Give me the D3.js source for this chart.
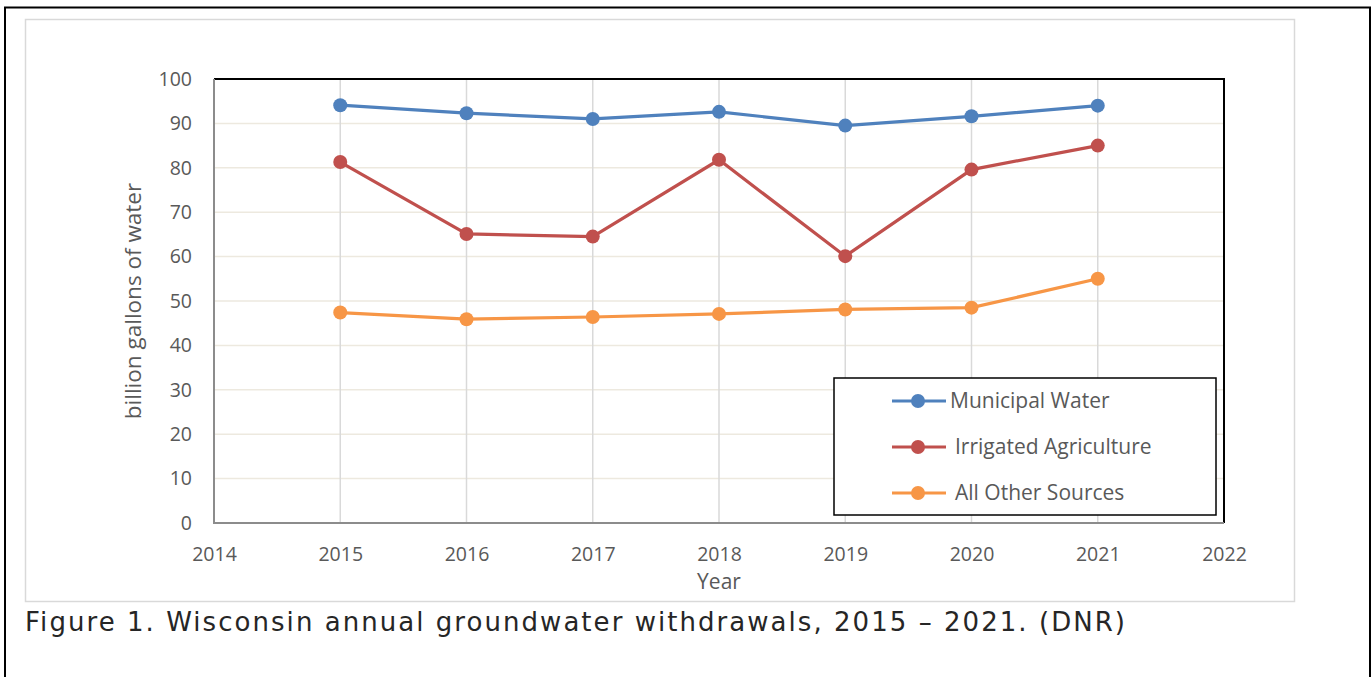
<!DOCTYPE html>
<html>
<head>
<meta charset="utf-8">
<script src="https://cdn.jsdelivr.net/npm/d3@7"></script>
<style>
  body { margin: 0; background: #fff; }
  svg { display: block; }
</style>
</head>
<body>
<svg width="1372" height="677"></svg>
<script>
var years = [2015, 2016, 2017, 2018, 2019, 2020, 2021];
var xTicks = [2014, 2015, 2016, 2017, 2018, 2019, 2020, 2021, 2022];
var yTicks = [0, 10, 20, 30, 40, 50, 60, 70, 80, 90, 100];
var municipal = [94.1, 92.3, 91.0, 92.6, 89.5, 91.6, 94.0];
var irrigated = [81.3, 65.1, 64.5, 81.8, 60.1, 79.6, 85.0];
var otherSources = [47.4, 45.9, 46.4, 47.1, 48.1, 48.5, 55.0];
var seriesNames = ["Municipal Water", "Irrigated Agriculture", "All Other Sources"];
var seriesColors = ["#4f81bd", "#c0504d", "#f79646"];

var margin = { top: 79, left: 214, right: 1224, bottom: 523 };
var svg = d3.select("svg");
var font = "'Open Sans', sans-serif";

// outer frame and chart area
svg.append("rect").attr("x", 5).attr("y", 7.5).attr("width", 1365).attr("height", 680)
  .attr("fill", "none").attr("stroke", "#000").attr("stroke-width", 2);
svg.append("rect").attr("x", 25.5).attr("y", 19.5).attr("width", 1269).attr("height", 582)
  .attr("fill", "#fff").attr("stroke", "#d9d9d9").attr("stroke-width", 1.5);

var x = d3.scaleLinear().domain([2014, 2022]).range([margin.left, margin.right]);
var y = d3.scaleLinear().domain([0, 100]).range([margin.bottom, margin.top]);

// grid
svg.append("g").selectAll("line").data(yTicks.slice(1, -1)).enter().append("line")
  .attr("x1", margin.left).attr("x2", margin.right)
  .attr("y1", d => y(d)).attr("y2", d => y(d))
  .attr("stroke", "#ede9df").attr("stroke-width", 1.5);
svg.append("g").selectAll("line").data(xTicks.slice(1, -1)).enter().append("line")
  .attr("x1", d => x(d)).attr("x2", d => x(d))
  .attr("y1", margin.top).attr("y2", margin.bottom)
  .attr("stroke", "#d9d9d9").attr("stroke-width", 1.5);

// plot border: top/right black, left/bottom gray
svg.append("path")
  .attr("d", "M" + margin.left + "," + margin.top + "H" + margin.right + "V" + margin.bottom)
  .attr("fill", "none").attr("stroke", "#000").attr("stroke-width", 2);
svg.append("path")
  .attr("d", "M" + margin.left + "," + margin.top + "V" + margin.bottom + "H" + margin.right)
  .attr("fill", "none").attr("stroke", "#8c8c8c").attr("stroke-width", 2);

// axes
var yAxis = svg.append("g")
  .attr("transform", "translate(" + (margin.left - 10) + ",0)")
  .call(d3.axisLeft(y).tickValues(yTicks).tickSize(0).tickPadding(12));
var xAxis = svg.append("g")
  .attr("transform", "translate(0," + (margin.bottom + 24) + ")")
  .call(d3.axisBottom(x).tickValues(xTicks).tickFormat(d3.format("d")).tickSize(0).tickPadding(0));
[yAxis, xAxis].forEach(function (g) {
  g.select(".domain").remove();
  g.selectAll("text").attr("fill", "#595959").style("font-family", font).style("font-size", "19.5px");
});

svg.append("text").attr("x", 719).attr("y", 589).attr("text-anchor", "middle")
  .attr("fill", "#595959").style("font-family", font).style("font-size", "21px").text("Year");
svg.append("text").attr("transform", "translate(141,301) rotate(-90)").attr("text-anchor", "middle")
  .attr("fill", "#595959").style("font-family", font).style("font-size", "22.5px").text("billion gallons of water");

// series
var allSeries = [municipal, irrigated, otherSources];
var line = d3.line().x((d, i) => x(years[i])).y(d => y(d));
allSeries.forEach(function (vals, s) {
  svg.append("path").datum(vals).attr("d", line)
    .attr("fill", "none").attr("stroke", seriesColors[s]).attr("stroke-width", 3.2);
  svg.append("g").selectAll("circle").data(vals).enter().append("circle")
    .attr("cx", (d, i) => x(years[i])).attr("cy", d => y(d)).attr("r", 7)
    .attr("fill", seriesColors[s]);
});

// legend
svg.append("rect").attr("x", 834).attr("y", 378).attr("width", 382).attr("height", 137)
  .attr("fill", "#fff").attr("stroke", "#000").attr("stroke-width", 1.5);
var legendY = [401, 447, 493];
var legendX = [950, 955, 955];
seriesNames.forEach(function (name, s) {
  svg.append("line").attr("x1", 892).attr("x2", 946).attr("y1", legendY[s]).attr("y2", legendY[s])
    .attr("stroke", seriesColors[s]).attr("stroke-width", 3.2);
  svg.append("circle").attr("cx", 918).attr("cy", legendY[s]).attr("r", 7).attr("fill", seriesColors[s]);
  svg.append("text").attr("x", legendX[s]).attr("y", legendY[s] + 7)
    .attr("fill", "#595959").style("font-family", font).style("font-size", "21px").text(name);
});

// caption
svg.append("text").attr("x", 25).attr("y", 631)
  .attr("fill", "#262626").style("font-family", "'DejaVu Sans', sans-serif").style("font-size", "26px")
  .attr("textLength", 1100).attr("lengthAdjust", "spacing")
  .text("Figure 1. Wisconsin annual groundwater withdrawals, 2015 \u2013 2021. (DNR)");
</script>
</body>
</html>
